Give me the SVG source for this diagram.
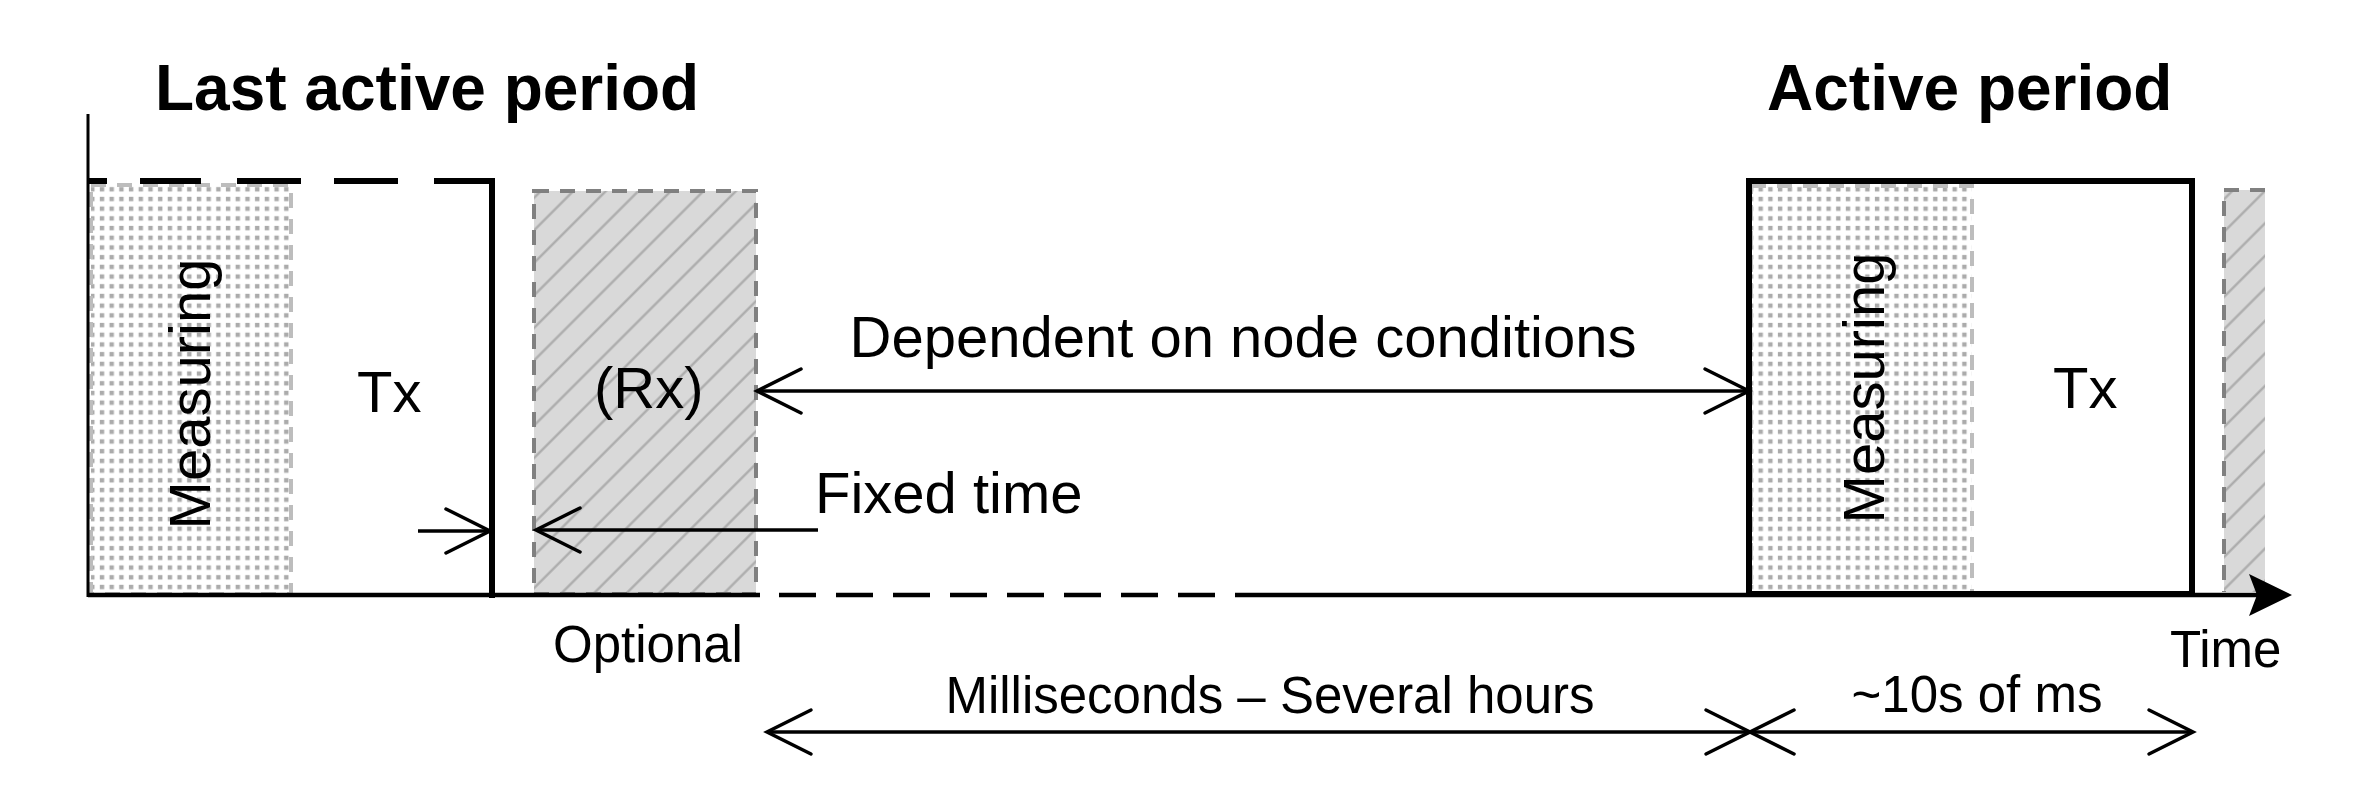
<svg xmlns="http://www.w3.org/2000/svg" width="2356" height="800" viewBox="0 0 2356 800">
  <style>
    .t { font-family: "Liberation Sans", Arial, sans-serif; fill: #000; }
    .big { font-size: 58px; }
    .small { font-size: 51px; }
    .title { font-size: 64px; font-weight: bold; }
    .meas { fill: url(#dots); stroke: #bdbdbd; stroke-width: 4; stroke-dasharray: 15 11; }
    .rx { fill: url(#hatch); stroke: #808080; stroke-width: 4; stroke-dasharray: 15 11; }
    .arrow { stroke: #000; stroke-width: 3.5; fill: none; }
    .axis { stroke: #000; stroke-width: 4.5; fill: none; }
  </style>
  <defs>
    <pattern id="dots" patternUnits="userSpaceOnUse" width="9.7" height="9.7">
      <rect x="0" y="0" width="9.7" height="9.7" fill="#ffffff"/>
      <rect x="2.8" y="2.8" width="4.4" height="4.4" fill="#ababab"/>
    </pattern>
    <pattern id="hatch" patternUnits="userSpaceOnUse" width="23" height="23" patternTransform="rotate(45)">
      <rect x="0" y="0" width="23" height="23" fill="#d9d9d9"/>
      <line x1="11.5" y1="-1" x2="11.5" y2="24" stroke="#a9a9a9" stroke-width="2.2"/>
    </pattern>
    <marker id="open" markerUnits="userSpaceOnUse" markerWidth="52" markerHeight="52" viewBox="-48 -26 52 52" refX="0" refY="0" orient="auto-start-reverse" overflow="visible">
      <path d="M-44,-22 L0,0 L-44,22" fill="none" stroke="#000" stroke-width="3.5" stroke-linecap="round" stroke-linejoin="miter"/>
    </marker>
  </defs>

  <g id="title-last">
    <text class="t title" x="155" y="110">Last active period</text>
  </g>
  <g id="title-active">
    <text class="t title" x="1767" y="110">Active period</text>
  </g>

  <g id="last-measuring">
    <rect class="meas" x="91" y="185" width="200" height="409"/>
    <text class="t big" text-anchor="middle" transform="translate(210,394) rotate(-90)">Measuring</text>
  </g>

  <g id="last-tx">
    <text class="t big" x="357" y="412">Tx</text>
  </g>

  <g id="rx">
    <rect class="rx" x="534" y="191" width="222" height="403"/>
    <text class="t big" x="594" y="408">(Rx)</text>
  </g>

  <g id="optional">
    <text class="t small" x="553" y="662">Optional</text>
  </g>

  <g id="active-measuring">
    <rect class="meas" x="1751" y="186" width="221" height="407"/>
    <text class="t big" text-anchor="middle" transform="translate(1884,388) rotate(-90)">Measuring</text>
  </g>

  <g id="active-tx">
    <rect x="1749" y="181" width="443" height="413" fill="none" stroke="#000" stroke-width="6"/>
    <text class="t big" x="2053" y="408">Tx</text>
  </g>

  <g id="next-rx">
    <rect x="2224" y="190" width="41" height="402" fill="url(#hatch)"/>
    <path d="M2265,190 H2224 V592" fill="none" stroke="#808080" stroke-width="4" stroke-dasharray="15 11"/>
  </g>

  <g id="connectors">
    <line x1="88" y1="114" x2="88" y2="597" stroke="#000" stroke-width="3"/>
    <path d="M89,181 H107 M140,181 H201 M237,181 H301 M334,181 H398" stroke="#000" stroke-width="6" fill="none"/>
    <path d="M434,181 H492 V598" stroke="#000" stroke-width="6" fill="none" stroke-linejoin="miter"/>

    <line class="axis" x1="88" y1="595" x2="760" y2="595"/>
    <line class="axis" x1="779" y1="595" x2="1265" y2="595" stroke-dasharray="37 20"/>
    <line class="axis" x1="1265" y1="595" x2="2258" y2="595"/>
    <path d="M2292,595 L2249,574 L2257,595 L2249,616 Z" fill="#000"/>
    <text class="t small" x="2170" y="667">Time</text>

    <line class="arrow" x1="418" y1="531" x2="490" y2="531" marker-end="url(#open)"/>
    <line class="arrow" x1="818" y1="530" x2="536" y2="530" marker-end="url(#open)"/>
    <text class="t big" x="815" y="513">Fixed time</text>

    <line class="arrow" x1="757" y1="391" x2="1749" y2="391" marker-start="url(#open)" marker-end="url(#open)"/>
    <text class="t big" x="1243" y="357" text-anchor="middle">Dependent on node conditions</text>

    <line class="arrow" x1="767" y1="732" x2="1750" y2="732" marker-start="url(#open)" marker-end="url(#open)"/>
    <text class="t small" x="1270" y="713" text-anchor="middle">Milliseconds – Several hours</text>
    <line class="arrow" x1="1750" y1="732" x2="2193" y2="732" marker-start="url(#open)" marker-end="url(#open)"/>
    <text class="t small" x="1977" y="712" text-anchor="middle">~10s of ms</text>
  </g>
</svg>
